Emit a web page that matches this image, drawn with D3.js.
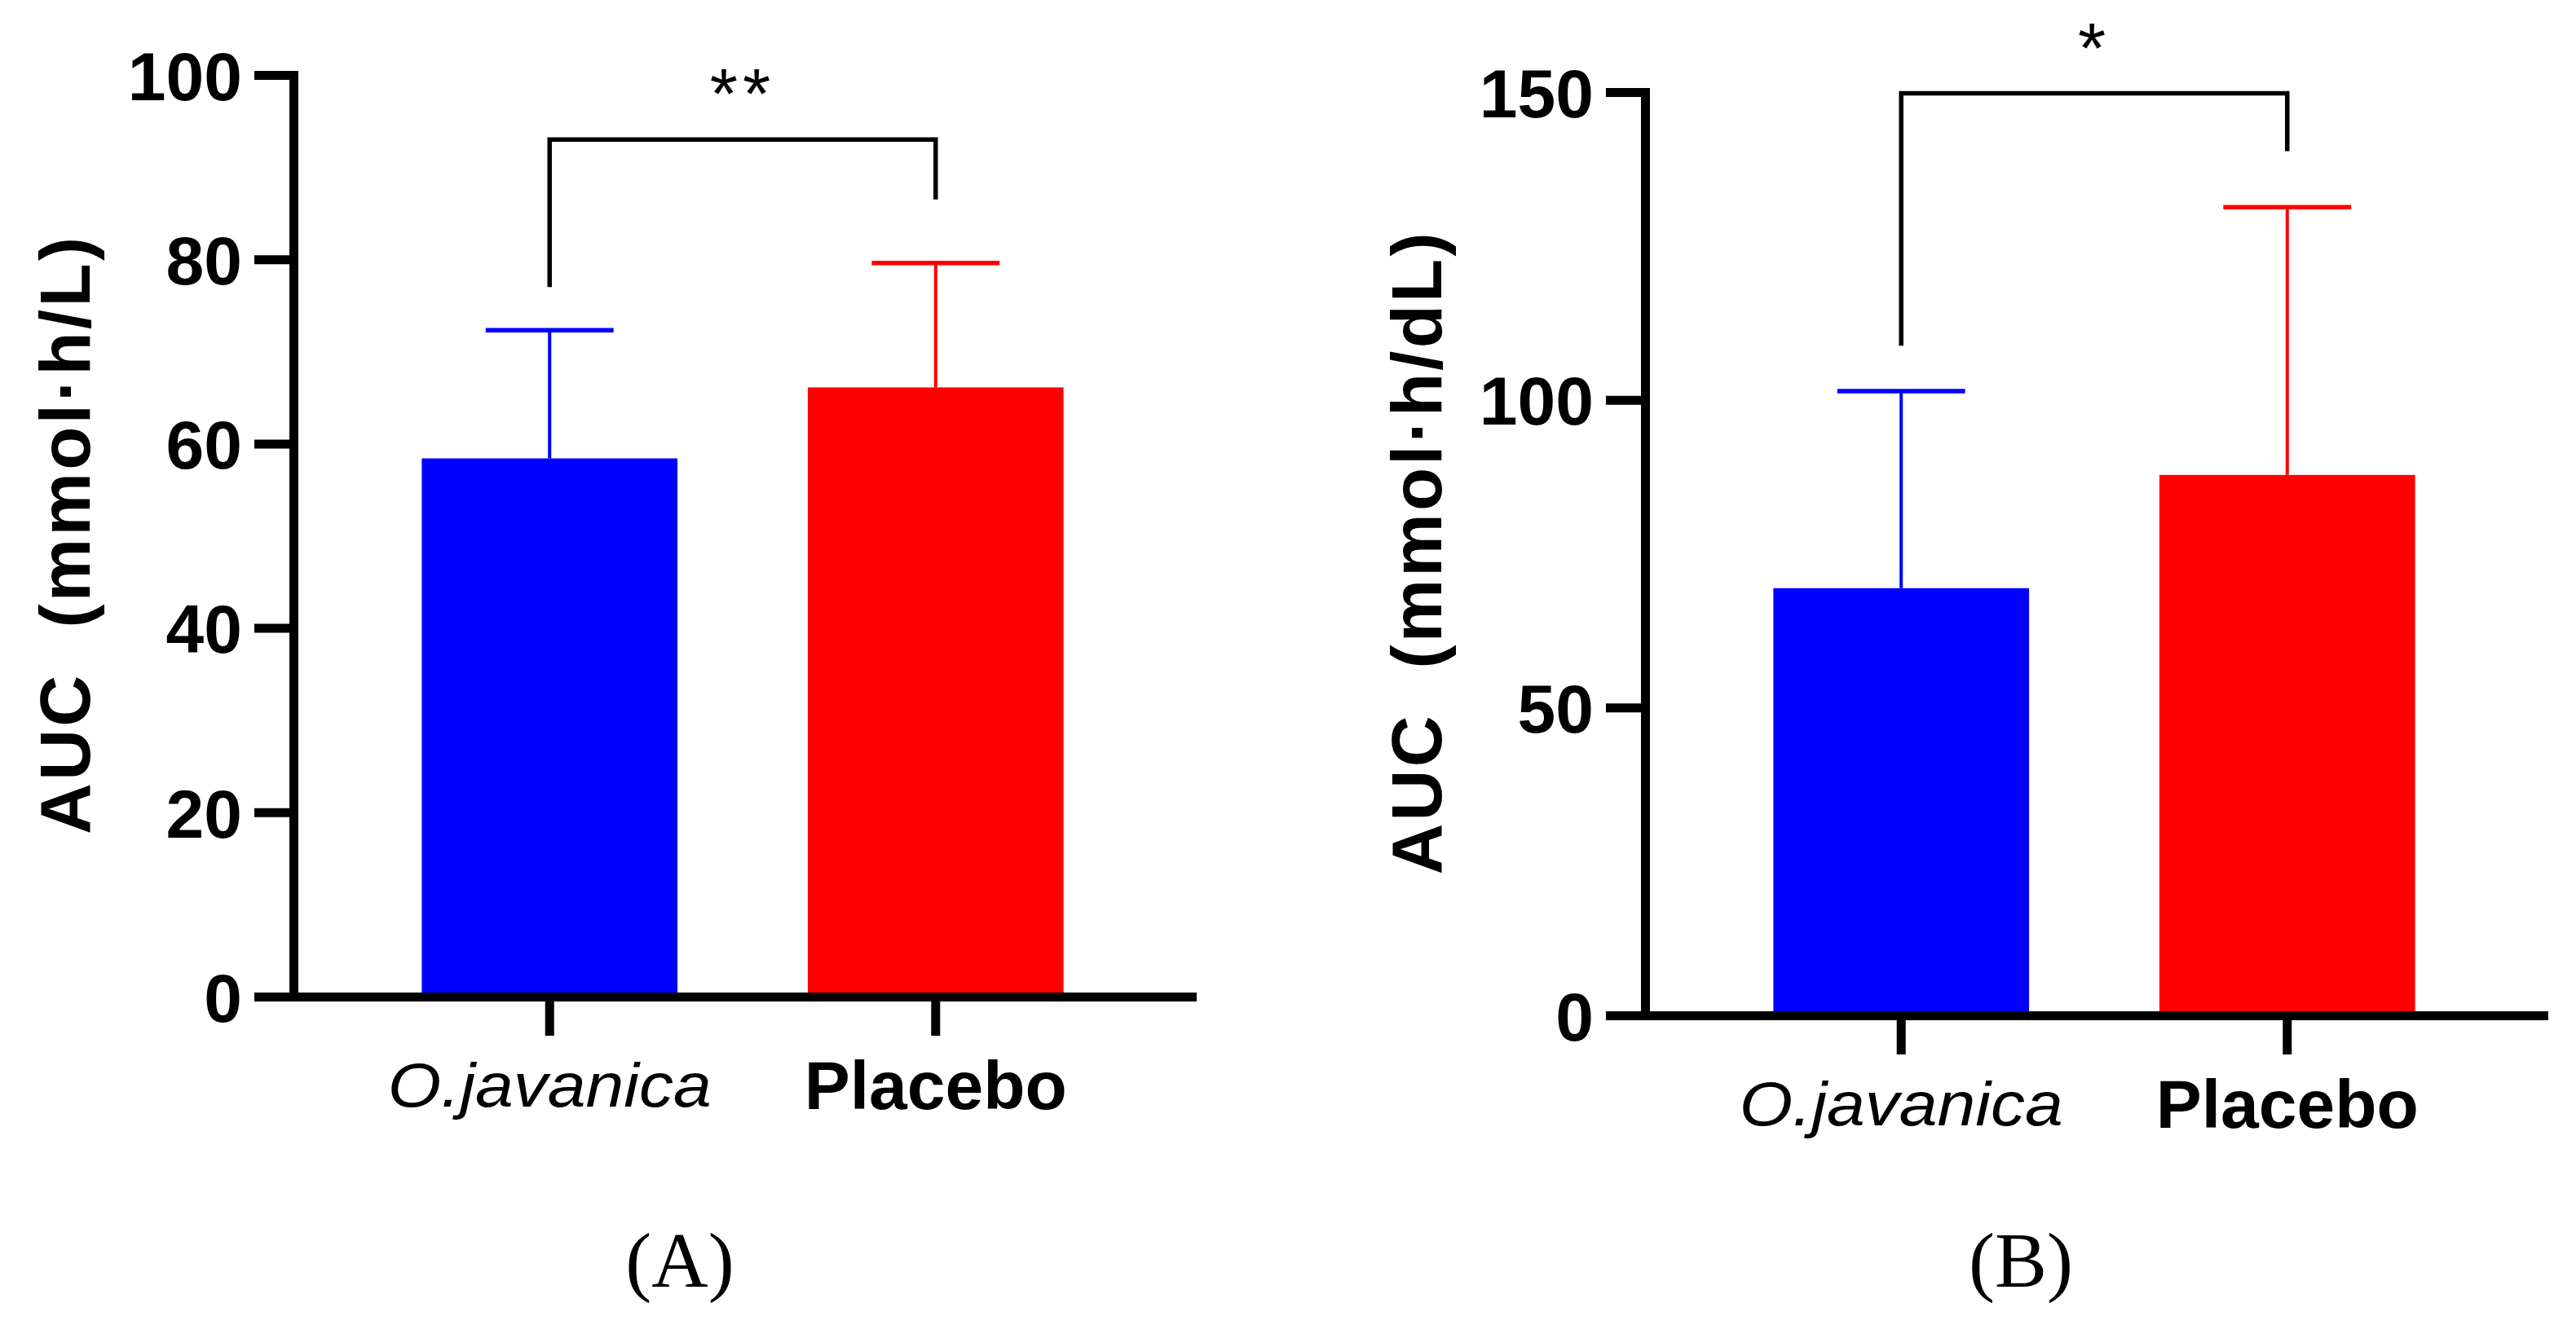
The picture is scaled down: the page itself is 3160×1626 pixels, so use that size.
<!DOCTYPE html>
<html>
<head>
<meta charset="utf-8">
<script src="https://cdn.jsdelivr.net/npm/d3@7"></script>
<style>
  body { margin: 0; background: #fff; }
</style>
</head>
<body>
<div id="chart"></div>
<script>
// groups and colours shared by both panels
var groups = ["O.javanica", "Placebo"];
var colors = ["#0000ff", "#ff0000"];

// panel A: AUC (mmol·h/L), mean and SD
var meanA = [58.4, 66.1];
var sdA = [13.9, 13.5];
var ticksA = [0, 20, 40, 60, 80, 100];
var bracketA = [93.0, 77.0, 86.5];   // top, left leg end, right leg end
var starsA = "**";

// panel B: AUC (mmol·h/dL)
var meanB = [69.4, 87.8];
var sdB = [32.0, 43.5];
var ticksB = [0, 50, 100, 150];
var bracketB = [149.8, 108.8, 140.4];
var starsB = "*";

var sans = "'Liberation Sans', Arial, Helvetica, sans-serif";
var serif = "'Liberation Serif', 'Times New Roman', serif";

var svg = d3.select("#chart")
  .append("svg")
    .attr("width", 3160)
    .attr("height", 1626);

function panel(p) {
  var g = svg.append("g");

  var y = d3.scaleLinear()
      .domain([0, p.max])
      .range([p.bottom, p.top]);

  var x = d3.scaleBand()
      .domain(groups)
      .range([p.left, p.left + 1102])
      .paddingInner(0.3376)
      .paddingOuter(0.3323);

  var bw = x.bandwidth();
  var cx = function(i) { return x(groups[i]) + bw / 2; };

  // bars
  g.append("g")
    .selectAll("rect")
    .data(p.mean)
    .enter()
    .append("rect")
      .attr("x", function(d, i) { return x(groups[i]); })
      .attr("width", bw)
      .attr("y", function(d) { return y(d); })
      .attr("height", function(d) { return y(0) - y(d); })
      .attr("fill", function(d, i) { return colors[i]; });

  // error bars (upper SD only)
  var err = g.append("g");
  err.selectAll("line.stem")
    .data(p.mean)
    .enter()
    .append("line")
      .attr("class", "stem")
      .attr("x1", function(d, i) { return cx(i); })
      .attr("x2", function(d, i) { return cx(i); })
      .attr("y1", function(d) { return y(d); })
      .attr("y2", function(d, i) { return y(d + p.sd[i]); })
      .attr("stroke", function(d, i) { return colors[i]; })
      .attr("stroke-width", 4);
  err.selectAll("line.cap")
    .data(p.mean)
    .enter()
    .append("line")
      .attr("class", "cap")
      .attr("x1", function(d, i) { return cx(i) - bw / 4; })
      .attr("x2", function(d, i) { return cx(i) + bw / 4; })
      .attr("y1", function(d, i) { return y(d + p.sd[i]); })
      .attr("y2", function(d, i) { return y(d + p.sd[i]); })
      .attr("stroke", function(d, i) { return colors[i]; })
      .attr("stroke-width", 5.5);

  // y axis
  var ga = g.append("g")
      .attr("transform", "translate(" + p.left + ",0)")
      .call(d3.axisLeft(y).tickValues(p.ticks).tickSize(48).tickSizeOuter(0).tickPadding(15));
  ga.select(".domain").attr("stroke-width", 11).attr("stroke-linecap", "square");
  ga.selectAll(".tick line").attr("stroke-width", 11);
  ga.selectAll(".tick text")
      .attr("font-family", sans)
      .attr("font-weight", "bold")
      .attr("font-size", 84)
      .attr("fill", "#000")
      .attr("dy", "0.36em");

  // x axis
  var gx = g.append("g")
      .attr("transform", "translate(0," + y(0) + ")")
      .call(d3.axisBottom(x).tickSize(48).tickSizeOuter(0).tickFormat(""));
  gx.select(".domain").attr("stroke-width", 11).attr("stroke-linecap", "square");
  gx.selectAll(".tick line").attr("stroke-width", 11);

  // category labels
  g.append("text")
      .attr("x", cx(0))
      .attr("y", y(0) + 135)
      .attr("text-anchor", "middle")
      .attr("font-family", sans)
      .attr("font-style", "italic")
      .attr("font-size", 76)
      .attr("textLength", 397)
      .attr("lengthAdjust", "spacingAndGlyphs")
      .text(groups[0]);
  g.append("text")
      .attr("x", cx(1))
      .attr("y", y(0) + 138)
      .attr("text-anchor", "middle")
      .attr("font-family", sans)
      .attr("font-weight", "bold")
      .attr("font-size", 84)
      .text(groups[1]);

  // y axis title
  g.append("text")
      .attr("transform", "translate(" + (p.left - 250) + "," + ((p.top + p.bottom) / 2) + ") rotate(-90)")
      .attr("text-anchor", "middle")
      .attr("font-family", sans)
      .attr("font-weight", "bold")
      .attr("font-size", 87)
      .attr("textLength", p.titleLength)
      .attr("lengthAdjust", "spacing")
      .attr("xml:space", "preserve")
      .text(p.title);

  // significance bracket
  var xl = cx(0), xr = cx(1);
  g.append("path")
      .attr("d", "M" + xl + "," + y(p.bracket[1]) + "V" + y(p.bracket[0]) +
                 "H" + xr + "V" + y(p.bracket[2]))
      .attr("fill", "none")
      .attr("stroke", "#000")
      .attr("stroke-width", 5.5);
  g.append("text")
      .attr("x", (xl + xr) / 2)
      .attr("y", y(p.bracket[0]) - 68 + 42)
      .attr("text-anchor", "middle")
      .attr("font-family", sans)
      .attr("font-size", 88)
      .attr("letter-spacing", 6)
      .text(p.stars);

  // panel letter
  g.append("text")
      .attr("x", p.letterX)
      .attr("y", 1579)
      .attr("text-anchor", "middle")
      .attr("font-family", serif)
      .attr("font-size", 96)
      .text(p.letter);
}

panel({ left: 360, top: 92, bottom: 1223, max: 100, mean: meanA, sd: sdA, ticks: ticksA,
        bracket: bracketA, stars: starsA, title: "AUC  (mmol\u00b7h/L)", titleLength: 733,
        letter: "(A)", letterX: 834 });
panel({ left: 2018, top: 113, bottom: 1246, max: 150, mean: meanB, sd: sdB, ticks: ticksB,
        bracket: bracketB, stars: starsB, title: "AUC  (mmol\u00b7h/dL)", titleLength: 788,
        letter: "(B)", letterX: 2479 });
</script>
</body>
</html>
